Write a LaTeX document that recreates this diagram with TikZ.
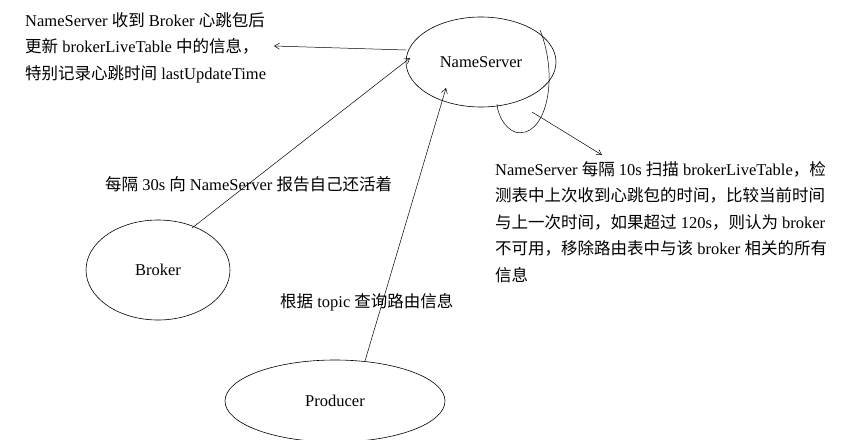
\documentclass[tikz,border=0pt]{standalone}
\usepackage{fontspec}
\usetikzlibrary{arrows.meta}
\setmainfont{Liberation Serif}
\newfontfamily\cjk{Noto Sans CJK SC}
\newcommand\zh[1]{{\cjk #1}}
\begin{document}
\begin{tikzpicture}[x=1pt,y=-1pt,
  arr/.style={-{Straight Barb[length=5pt,width=6pt]},line width=0.5pt},
  lbl/.style={font=\fontsize{16.5}{18}\selectfont},
  txt/.style={font=\fontsize{16.5}{26.5}\selectfont,align=left,anchor=north west,inner sep=0pt}]
\useasboundingbox (0,0) rectangle (851,439);
\draw[line width=0.6pt] (481,62) ellipse (75 and 45);
\node[lbl] (ns) at (481,62) {NameServer};
\draw[line width=0.6pt] (158,270) ellipse (72 and 50);
\node[lbl] (br) at (158,270) {Broker};
\draw[line width=0.6pt] (335,401) ellipse (110 and 41);
\node[lbl] (pr) at (335,401) {Producer};
\coordinate (brs) at (192,228);
\coordinate (nsa) at (410,58);
\draw[arr] (brs) -- (nsa);
\coordinate (prs) at (365,361);
\coordinate (nsb) at (446,88);
\draw[arr] (prs) -- (nsb);
\coordinate (nsl) at (406,50);
\coordinate (t1) at (274,46);
\draw[arr] (nsl) -- (t1);
\coordinate (la) at (540,30);
\coordinate (lb) at (497,104);
\draw[line width=0.5pt] (la) .. controls (560,80) and (545,140) .. (515,132) .. controls (505,128) and (498,116) .. (lb);
\coordinate (lc) at (532,112);
\coordinate (t2) at (602,155);
\draw[arr] (lc) -- (t2);
\node[txt] (tx1) at (25,12) {NameServer \zh{收到} Broker \zh{心跳包后}\\\zh{更新} brokerLiveTable \zh{中的信息，}\\\zh{特别记录心跳时间} lastUpdateTime};
\node[txt] (tx2) at (495,161) {NameServer \zh{每隔} 10s \zh{扫描} brokerLiveTable\zh{，检}\\\zh{测表中上次收到心跳包的时间，比较当前时间}\\\zh{与上一次时间，如果超过} 120s\zh{，则认为} broker\\\zh{不可用，移除路由表中与该} broker \zh{相关的所有}\\\zh{信息}};
\node[txt] (l1) at (105,176) {\zh{每隔} 30s \zh{向} NameServer \zh{报告自己还活着}};
\node[txt] (l2) at (280,293) {\zh{根据} topic \zh{查询路由信息}};
\end{tikzpicture}
\end{document}
